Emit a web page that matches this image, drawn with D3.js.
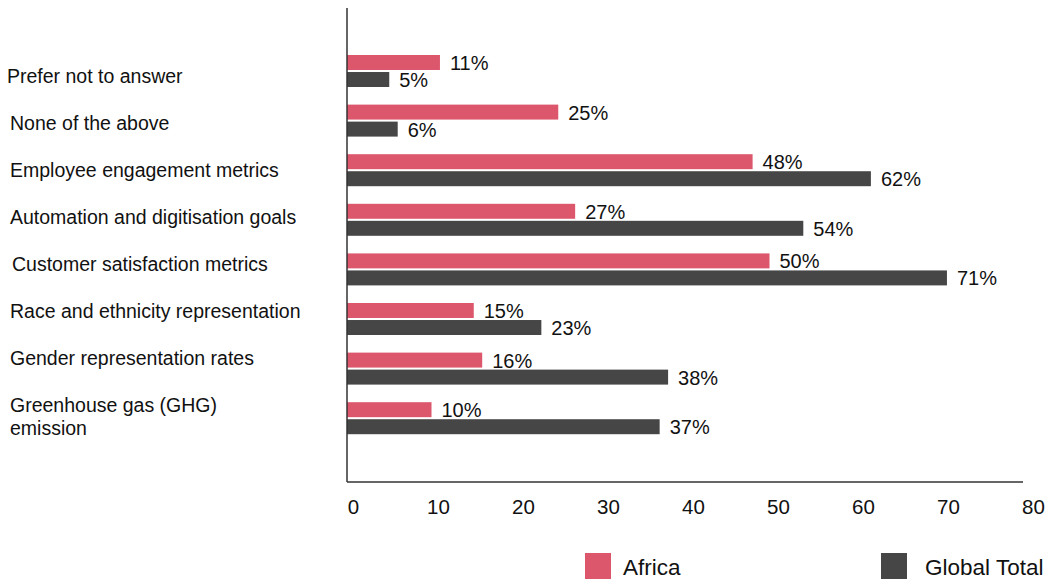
<!DOCTYPE html>
<html><head><meta charset="utf-8">
<script src="https://cdn.jsdelivr.net/npm/d3@7"></script>
<style>
html,body{margin:0;padding:0;background:#fff;}
svg{display:block;font-family:"Liberation Sans",Arial,Helvetica,sans-serif;}
</style></head>
<body>
<svg id="chart" width="1051" height="582"></svg>
<script>
const categories = [
  "Prefer not to answer",
  "None of the above",
  "Employee engagement metrics",
  "Automation and digitisation goals",
  "Customer satisfaction metrics",
  "Race and ethnicity representation",
  "Gender representation rates",
  "Greenhouse gas (GHG)\nemission"
];
const seriesNames = ["Africa", "Global Total"];
const africa = [11, 25, 48, 27, 50, 15, 16, 10];
const globalTotal = [5, 6, 62, 54, 71, 23, 38, 37];
const xTicks = [0, 10, 20, 30, 40, 50, 60, 70, 80];
const colors = ["#dc566c", "#464646"];

const svg = d3.select("#chart");
const x = d3.scaleLinear().domain([0, 80]).range([347, 1023]);
const xTickScale = d3.scaleLinear().domain([0, 80]).range([353, 1033]);
const y = d3.scaleBand().domain(categories).range([46.2, 443]).paddingInner(0.355).paddingOuter(0.1775);
const yInner = d3.scaleBand().domain(seriesNames).range([0, y.bandwidth()]).paddingInner(0.12);
const yLabel = d3.scalePoint().domain(categories).range([75.5, 404.5]);
const labelX = [7, 10, 10, 10, 12, 10, 10, 10];

const values = [africa, globalTotal];

// bars
const groups = svg.append("g").selectAll("g").data(categories).join("g")
  .attr("transform", d => `translate(0,${y(d)})`);

groups.each(function(cat, i) {
  const g = d3.select(this);
  seriesNames.forEach((s, si) => {
    const v = values[si][i];
    g.append("rect")
      .attr("x", x(0))
      .attr("y", yInner(s))
      .attr("width", x(v) - x(0))
      .attr("height", yInner.bandwidth())
      .attr("fill", colors[si]);
    g.append("text")
      .attr("x", x(v) + 10)
      .attr("y", yInner(s) + yInner.bandwidth() / 2)
      .attr("dy", "0.38em")
      .attr("font-size", 20)
      .attr("fill", "#111")
      .text(v + "%");
  });
});

// category labels
categories.forEach((c, i) => {
  const lines = c.split("\n");
  const t = svg.append("text")
    .attr("x", labelX[i])
    .attr("y", yLabel(c))
    .attr("font-size", 19.5)
    .attr("fill", "#111");
  lines.forEach((ln, li) => {
    t.append("tspan").attr("x", labelX[i]).attr("dy", li === 0 ? "0.36em" : "1.2em").text(ln);
  });
});

// axes lines
svg.append("line").attr("x1", x(0)).attr("x2", x(0)).attr("y1", 8).attr("y2", 482)
  .attr("stroke", "#333").attr("stroke-width", 1.5);
svg.append("line").attr("x1", x(0)).attr("x2", x(80)).attr("y1", 482).attr("y2", 482)
  .attr("stroke", "#333").attr("stroke-width", 1.5);

// x tick labels
const xAxis = d3.axisBottom(xTickScale).tickValues(xTicks).tickSize(0).tickPadding(17).tickFormat(d3.format("d"));
const ax = svg.append("g").attr("transform", "translate(0,482)").call(xAxis);
ax.select(".domain").remove();
ax.selectAll("text").attr("font-size", 20.5).attr("fill", "#111")
  .attr("font-family", "Liberation Sans, Arial, sans-serif");

// legend
const legendX = [585, 881];
const legendTextX = [623, 925];
seriesNames.forEach((s, i) => {
  svg.append("rect").attr("x", legendX[i]).attr("y", 553).attr("width", 26).attr("height", 26).attr("fill", colors[i]);
  svg.append("text").attr("x", legendTextX[i]).attr("y", 567).attr("dy", "0.36em")
    .attr("font-size", 22.5).attr("fill", "#111").text(s);
});
</script>
</body></html>
